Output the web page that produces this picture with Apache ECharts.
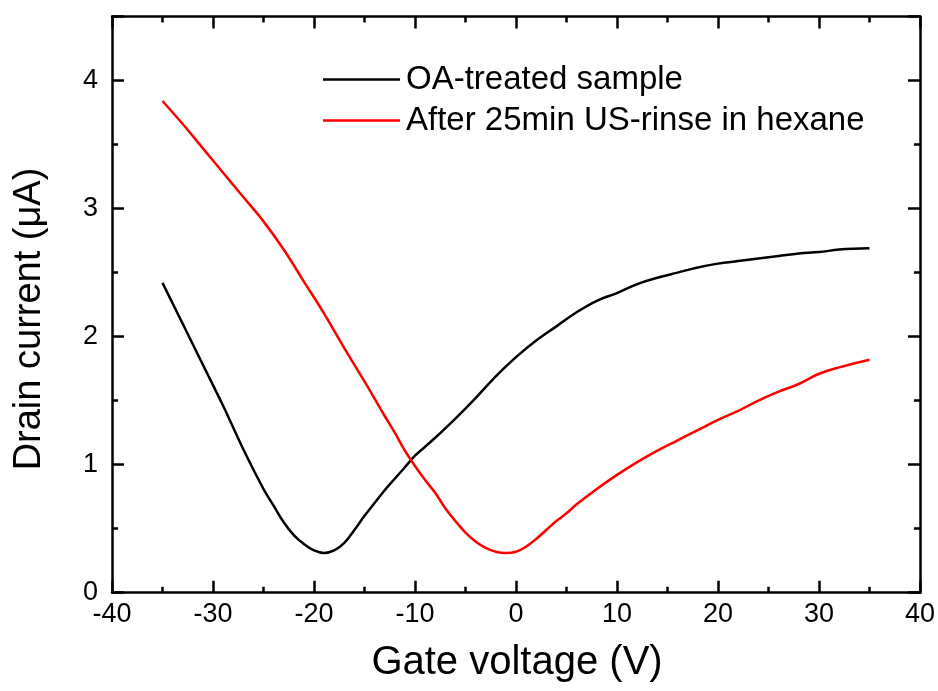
<!DOCTYPE html>
<html>
<head>
<meta charset="utf-8">
<script src="https://cdn.jsdelivr.net/npm/echarts@6/dist/echarts.min.js"></script>
<style>
html,body{margin:0;padding:0;background:#fff;}
#chart{width:938px;height:691px;}
</style>
</head>
<body>
<div id="chart"></div>
<script>
var seriesNames = ['OA-treated sample', 'After 25min US-rinse in hexane'];

var blackX = [-35,-33,-31,-29,-27,-25,-24,-23,-22,-21,-20,-19,-18,-17,-16,-15,-14,-13,-12,-11,-10,-9,-8,-6,-4,-2,0,2,4,6,8,10,12,14,16,18,20,22,24,26,28,30,32,35];
var blackY = [2.42,2.10,1.78,1.46,1.12,0.81,0.68,0.55,0.45,0.38,0.33,0.31,0.33,0.39,0.49,0.60,0.70,0.80,0.89,0.98,1.07,1.14,1.21,1.36,1.52,1.69,1.84,1.97,2.08,2.19,2.28,2.34,2.41,2.46,2.50,2.54,2.57,2.59,2.61,2.63,2.65,2.66,2.68,2.69];

var redX = [-35,-33,-31,-29,-27,-25,-23,-21,-19,-17,-15,-13,-12,-11,-10,-9,-8,-7,-6,-5,-4,-3,-2,-1,0,1,2,3,4,5,6,8,10,12,14,16,18,20,22,24,26,28,30,32,35];
var redY = [3.84,3.66,3.47,3.28,3.09,2.90,2.68,2.43,2.18,1.91,1.65,1.38,1.25,1.11,0.99,0.88,0.78,0.66,0.56,0.47,0.40,0.35,0.32,0.31,0.32,0.36,0.42,0.49,0.56,0.62,0.69,0.81,0.92,1.02,1.11,1.19,1.27,1.35,1.42,1.50,1.57,1.63,1.71,1.76,1.82];

var xTicks = {min: -40, max: 40, interval: 10};
var yTicks = {min: 0, max: 4.5, interval: 1};
var xTitle = 'Gate voltage (V)';
var yTitle = 'Drain current (\u03bcA)';

function pairs(xs, ys){ return xs.map(function(x,i){ return [x, ys[i]]; }); }

var FONT = '"Liberation Sans", Arial, sans-serif';
var chart = echarts.init(document.getElementById('chart'), null, {renderer:'canvas'});

var axisLine = {show:true, onZero:false, lineStyle:{color:'#000', width:2.5}};
var tick = {show:true, inside:true, length:12, lineStyle:{color:'#000', width:2.5}};
var minor = {show:true, splitNumber:2, length:6, lineStyle:{color:'#000', width:2.5}};

chart.setOption({
  animation:false,
  backgroundColor:'#fff',
  grid:{left:112, right:18, top:16.5, bottom:98.3, containLabel:false},
  xAxis:[{
    type:'value', min:xTicks.min, max:xTicks.max, interval:xTicks.interval, position:'bottom',
    axisLine:axisLine, axisTick:tick, minorTick:minor, splitLine:{show:false},
    axisLabel:{color:'#000', fontSize:27, fontFamily:FONT, margin:8}
  },{
    type:'value', min:xTicks.min, max:xTicks.max, interval:xTicks.interval, position:'top',
    axisLine:axisLine, axisTick:tick, minorTick:minor, splitLine:{show:false},
    axisLabel:{show:false}
  }],
  yAxis:[{
    type:'value', min:yTicks.min, max:yTicks.max, interval:yTicks.interval, position:'left',
    axisLine:axisLine, axisTick:tick, minorTick:minor, splitLine:{show:false},
    axisLabel:{color:'#000', fontSize:27, fontFamily:FONT, margin:14,
      formatter:function(v){ return (v>4) ? '' : String(v); }}
  },{
    type:'value', min:yTicks.min, max:yTicks.max, interval:yTicks.interval, position:'right',
    axisLine:axisLine, axisTick:tick, minorTick:minor, splitLine:{show:false},
    axisLabel:{show:false}
  }],
  legend:{
    orient:'vertical', left:318, top:58, itemWidth:77, itemHeight:2.5, itemGap:8, icon:'rect',
    textStyle:{color:'#000', fontSize:33, fontFamily:FONT, padding:[0,0,0,1], lineHeight:33},
    data:seriesNames
  },
  series:[{
    name:seriesNames[0], type:'line', data:pairs(blackX, blackY), smooth:0.4, symbol:'none',
    lineStyle:{color:'#000', width:2.5}, itemStyle:{color:'#000'}
  },{
    name:seriesNames[1], type:'line', data:pairs(redX, redY), smooth:0.4, symbol:'none',
    lineStyle:{color:'#ff0000', width:2.5}, itemStyle:{color:'#ff0000'}
  }],
  graphic:[{
    type:'text', x:517, y:663,
    style:{text:xTitle, fill:'#000', font:'40px ' + FONT, textAlign:'center', textVerticalAlign:'middle'}
  },{
    type:'text', x:30, y:319, rotation:Math.PI/2,
    style:{text:yTitle, fill:'#000', font:'38px ' + FONT, textAlign:'center', textVerticalAlign:'middle'}
  }]
});
</script>
</body>
</html>
